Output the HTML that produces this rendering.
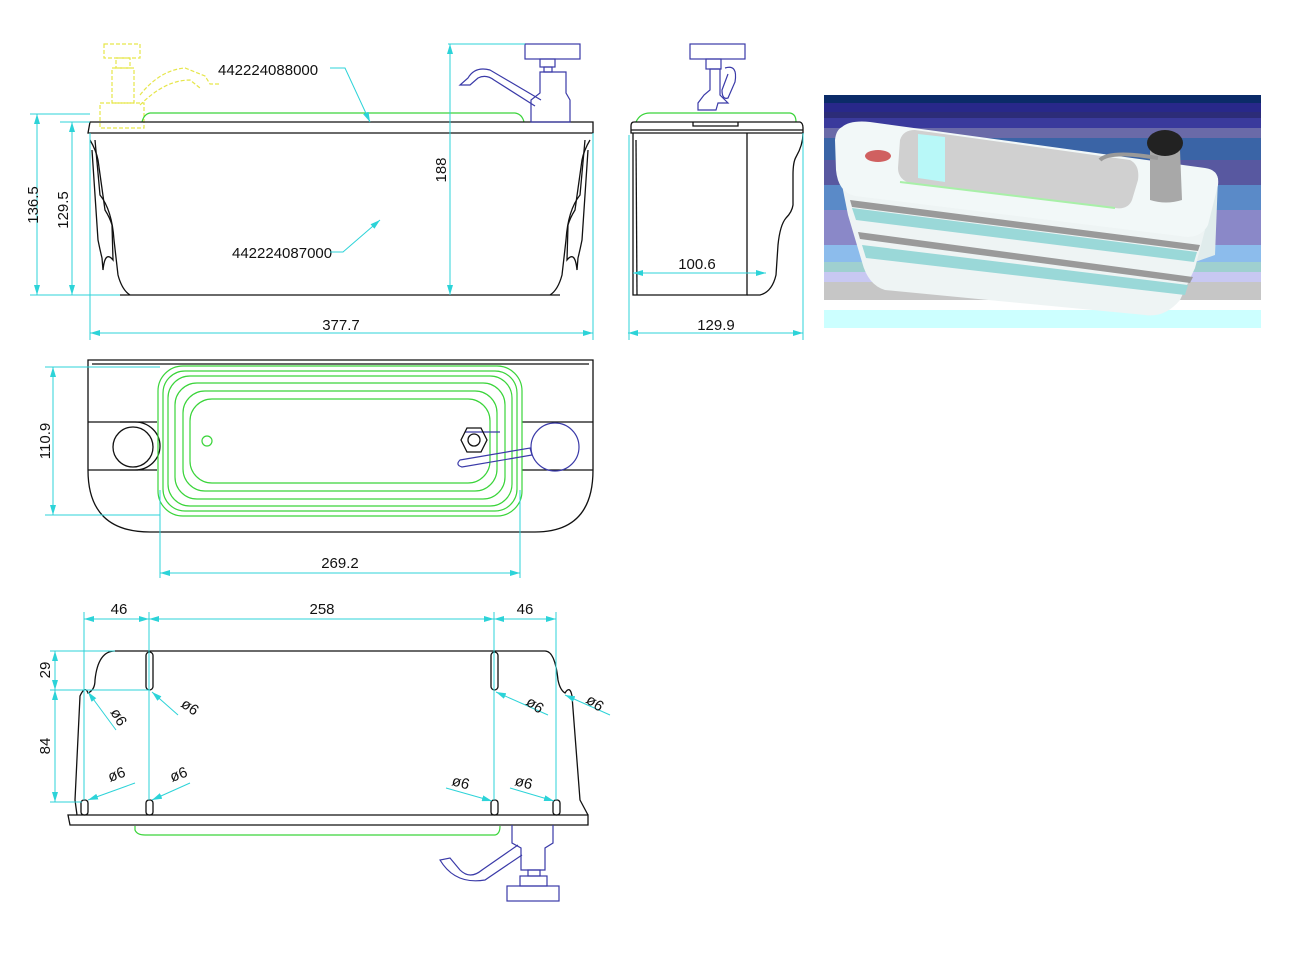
<!DOCTYPE html>
<html><head><meta charset="utf-8"><style>
html,body{margin:0;padding:0;background:#fff;width:1293px;height:968px;overflow:hidden}
svg{display:block}
text{font-family:"Liberation Sans",sans-serif;font-size:15px;fill:#111}
.k{fill:none;stroke:#111;stroke-width:1.3}
.c{fill:none;stroke:#2cd3d8;stroke-width:1}
.g{fill:none;stroke:#3ad43a;stroke-width:1.2}
.b{fill:none;stroke:#3a3aa8;stroke-width:1.2}
.y{fill:none;stroke:#e6e64a;stroke-width:1.2;stroke-dasharray:4 2}
</style></head><body>
<svg width="1293" height="968" viewBox="0 0 1293 968">
<defs>
<marker id="a" markerWidth="10" markerHeight="6" refX="10" refY="3" orient="auto-start-reverse"><path d="M0,0L10,3L0,6z" fill="#2cd3d8"/></marker>
</defs>

<!-- ========== FRONT VIEW ========== -->
<rect class="y" x="104" y="44" width="36" height="14"/>
<rect class="y" x="116" y="58" width="14" height="10"/>
<rect class="y" x="112" y="68" width="22" height="35"/>
<rect class="y" x="100" y="103" width="44" height="25"/>
<path class="y" d="M140,95 Q160,70 185,68 L205,76 L210,84 L220,84"/>
<path class="y" d="M140,105 Q165,80 190,80 L200,88"/>
<path class="g" d="M142,122 Q144,114 150,113 L515,113 Q522,114 524,122"/>
<path class="k" d="M90,122 L593,122 L593,133 L88,133 Z"/>
<path class="k" d="M90,140 Q96,150 98,160 L105,210 Q110,218 112,225 L113,260 Q105,250 103,270 L102,258 Q100,250 98,240 L92,150"/>
<path class="k" d="M95,140 L100,195 Q112,210 114,240 L118,275 Q122,290 130,295"/>
<path class="k" d="M590,140 Q584,150 582,160 L575,210 Q570,218 568,225 L567,260 Q575,250 577,270 L578,258 Q580,250 582,240 L588,150"/>
<path class="k" d="M585,140 L580,195 Q568,210 566,240 L562,275 Q558,290 550,295"/>
<line class="k" x1="120" y1="295" x2="560" y2="295"/>
<rect class="b" x="525" y="44" width="55" height="15"/>
<rect class="b" x="540" y="59" width="15" height="8"/>
<rect class="b" x="544" y="67" width="8" height="5"/>
<path class="b" d="M540,72 L566,72 L566,93 L570,100 L570,122 L531,122 L531,100 L540,93 Z"/>
<path class="b" d="M541,100 L490,70 Q475,66 468,78 L460,85 L470,85 L478,78 Q486,74 494,80 L535,106"/>
<line class="c" x1="30" y1="114" x2="90" y2="114"/>
<line class="c" x1="30" y1="295" x2="120" y2="295"/>
<line class="c" x1="37" y1="114" x2="37" y2="295" marker-start="url(#a)" marker-end="url(#a)"/>
<line class="c" x1="60" y1="122" x2="90" y2="122"/>
<line class="c" x1="72" y1="122" x2="72" y2="295" marker-start="url(#a)" marker-end="url(#a)"/>
<line class="c" x1="448" y1="44" x2="525" y2="44"/>
<line class="c" x1="450" y1="44" x2="450" y2="295" marker-start="url(#a)" marker-end="url(#a)"/>
<line class="c" x1="90" y1="133" x2="90" y2="340"/>
<line class="c" x1="593" y1="133" x2="593" y2="340"/>
<line class="c" x1="90" y1="333" x2="593" y2="333" marker-start="url(#a)" marker-end="url(#a)"/>
<text transform="translate(38,205) rotate(-90)" text-anchor="middle">136.5</text>
<text transform="translate(68,210) rotate(-90)" text-anchor="middle">129.5</text>
<text transform="translate(446,170) rotate(-90)" text-anchor="middle">188</text>
<text x="341" y="330" text-anchor="middle">377.7</text>
<text x="218" y="75" font-size="14">442224088000</text>
<path class="c" d="M330,68 L345,68 L370,122" marker-end="url(#a)"/>
<text x="232" y="258" font-size="14">442224087000</text>
<path class="c" d="M330,252 L343,252 L380,220" marker-end="url(#a)"/>

<!-- ========== SIDE VIEW ========== -->
<path class="g" d="M636,122 Q640,113 650,113 L790,113 Q796,114 796,122"/>
<rect class="b" x="690" y="44" width="55" height="15"/>
<rect class="b" x="706" y="59" width="15" height="10"/>
<path class="b" d="M710,69 L720,69 L720,95 L728,103 L718,103 L716,110 L698,110 L698,103 L704,95 L710,90 Z"/>
<path class="b" d="M725,68 Q738,64 735,82 L728,98 Q722,100 722,90 L728,74"/>
<path class="k" d="M634,122 L800,122 Q803,123 803,128 L803,133 L631,133 L631,126 Q631,122 634,122 Z"/>
<line class="k" x1="631" y1="130" x2="803" y2="130"/>
<path class="k" d="M693,122 L693,126 L738,126 L738,122"/>
<path class="k" d="M633,133 L633,295 L747,295 L747,133"/>
<line class="k" x1="636" y1="140" x2="637" y2="295"/>
<path class="k" d="M803,133 Q803,145 796,157 Q793,162 793,175 L793,205 Q792,212 786,218 Q780,225 778,245 L776,275 Q772,292 760,295 L747,295"/>
<line class="c" x1="629" y1="135" x2="629" y2="340"/>
<line class="c" x1="803" y1="133" x2="803" y2="340"/>
<line class="c" x1="628" y1="333" x2="803" y2="333" marker-start="url(#a)" marker-end="url(#a)"/>
<line class="c" x1="633" y1="273" x2="766" y2="273" marker-start="url(#a)" marker-end="url(#a)"/>
<text x="697" y="269" text-anchor="middle">100.6</text>
<text x="716" y="330" text-anchor="middle">129.9</text>

<!-- ========== PHOTO ========== -->
<rect x="824" y="95" width="437" height="8" fill="#0b2b68"/>
<rect x="824" y="103" width="437" height="9" fill="#28288a"/>
<rect x="824" y="112" width="437" height="6" fill="#2c2c78"/>
<rect x="824" y="118" width="437" height="10" fill="#3a3a9c"/>
<rect x="824" y="128" width="437" height="10" fill="#6a6aa8"/>
<rect x="824" y="138" width="437" height="22" fill="#3a64a6"/>
<rect x="824" y="160" width="437" height="25" fill="#5858a0"/>
<rect x="824" y="185" width="437" height="25" fill="#5a8ac8"/>
<rect x="824" y="210" width="437" height="35" fill="#8a88c8"/>
<rect x="824" y="245" width="437" height="17" fill="#8cbcec"/>
<rect x="824" y="262" width="437" height="10" fill="#9fd0d0"/>
<rect x="824" y="272" width="437" height="10" fill="#c8c8f2"/>
<rect x="824" y="282" width="437" height="18" fill="#c6c6c6"/>
<rect x="824" y="310" width="437" height="18" fill="#ccffff"/>
<path d="M1195,180 L1218,178 L1215,255 L1195,262 Z" fill="#e0ecec"/>
<!-- body -->
<path d="M842,185 L1205,230 L1195,268 L1180,300 Q1165,318 1145,315 L885,290 Q868,285 862,262 L848,215 Z" fill="#eef4f4"/>
<path d="M850,200 L1200,245 L1198,251 L852,207 Z" fill="#9a9a9a"/>
<path d="M852,208 L1197,252 L1194,262 L856,220 Z" fill="#9ad8d8"/>
<path d="M858,232 L1193,277 L1190,283 L860,239 Z" fill="#9a9a9a"/>
<path d="M862,245 L1188,285 L1185,295 L866,258 Z" fill="#9ad8d8"/>
<!-- top face -->
<path d="M842,127 Q850,120 870,122 L1205,168 Q1220,170 1218,185 L1208,225 Q1200,240 1180,236 L855,196 Q838,192 836,170 L835,140 Q836,130 842,127 Z" fill="#f2f8f8"/>
<path d="M900,140 Q903,130 915,130 L1130,160 Q1140,165 1138,180 L1132,200 Q1128,210 1115,208 L912,184 Q898,180 898,168 Z" fill="#d0d0d0"/>
<path d="M918,134 L945,137 L945,182 L918,178 Z" fill="#b8f8f8"/>
<path d="M900,182 L1115,208" stroke="#a8f0a8" stroke-width="2"/>
<ellipse cx="878" cy="156" rx="13" ry="6" fill="#d06060"/>
<path d="M1150,150 L1180,150 L1182,200 Q1166,205 1150,200 Z" fill="#a8a8a8"/>
<ellipse cx="1165" cy="143" rx="18" ry="13" fill="#222"/>
<path d="M1100,160 Q1110,150 1158,158" stroke="#999" stroke-width="4" fill="none"/>

<!-- ========== TOP VIEW ========== -->
<path class="k" d="M88,360 L593,360 L593,470 Q593,532 535,532 L150,532 Q88,532 88,470 Z"/>
<path class="k" d="M92,364 L589,364"/>
<line class="k" x1="88" y1="422" x2="157" y2="422"/>
<line class="k" x1="88" y1="470" x2="157" y2="470"/>
<line class="k" x1="522" y1="422" x2="593" y2="422"/>
<line class="k" x1="522" y1="470" x2="593" y2="470"/>
<path class="k" d="M120,422 L135,422 A25,24 0 0 1 135,470 L120,470"/>
<circle class="k" cx="133" cy="447" r="20"/>
<rect class="g" x="158" y="366" width="364" height="150" rx="25"/>
<rect class="g" x="163" y="371" width="354" height="140" rx="22"/>
<rect class="g" x="168" y="376" width="344" height="130" rx="22"/>
<rect class="g" x="175" y="383" width="330" height="116" rx="22"/>
<rect class="g" x="183" y="391" width="314" height="100" rx="22"/>
<rect class="g" x="190" y="399" width="300" height="84" rx="22"/>
<circle class="g" cx="207" cy="441" r="5"/>
<path class="b" d="M465,432 L500,432"/>
<polygon class="k" points="467,428 481,428 487,440 481,452 467,452 461,440"/>
<circle class="k" cx="474" cy="440" r="6"/>
<path class="b" d="M460,460 L530,448 L532,455 L462,467 Q455,465 460,460 Z"/>
<circle class="b" cx="555" cy="447" r="24"/>
<line class="c" x1="45" y1="367" x2="160" y2="367"/>
<line class="c" x1="45" y1="515" x2="160" y2="515"/>
<line class="c" x1="53" y1="367" x2="53" y2="515" marker-start="url(#a)" marker-end="url(#a)"/>
<line class="c" x1="160" y1="490" x2="160" y2="578"/>
<line class="c" x1="520" y1="490" x2="520" y2="578"/>
<line class="c" x1="160" y1="573" x2="520" y2="573" marker-start="url(#a)" marker-end="url(#a)"/>
<text transform="translate(50,441) rotate(-90)" text-anchor="middle">110.9</text>
<text x="340" y="568" text-anchor="middle">269.2</text>

<!-- ========== BOTTOM VIEW ========== -->
<path class="k" d="M77,815 L75,800 L80,696 Q85,685 88,693 Q95,690 95,680 Q98,651 115,651 L545,651 Q555,651 558,680 Q560,690 565,693 Q570,685 572,696 L580,800 L588,815"/>
<path class="k" d="M68,815 L588,815 L588,825 L70,825 Z"/>
<path class="g" d="M135,826 L135,830 Q137,835 145,835 L495,835 Q500,834 500,826"/>
<rect class="k" x="146" y="652" width="7" height="38" rx="3.5"/>
<rect class="k" x="491" y="652" width="7" height="38" rx="3.5"/>
<rect class="k" x="81" y="800" width="7" height="15" rx="3"/>
<rect class="k" x="146" y="800" width="7" height="15" rx="3"/>
<rect class="k" x="491" y="800" width="7" height="15" rx="3"/>
<rect class="k" x="553" y="800" width="7" height="15" rx="3"/>
<path class="b" d="M512,825 L512,843 L521,848 L521,870 L545,870 L545,848 L553,843 L553,825"/>
<rect class="b" x="528" y="870" width="12" height="6"/>
<rect class="b" x="520" y="876" width="27" height="10"/>
<rect class="b" x="507" y="886" width="52" height="15"/>
<path class="b" d="M518,845 L482,870 Q470,880 460,870 L450,858 L440,860 Q455,885 485,880 L522,855"/>
<line class="c" x1="84" y1="612" x2="84" y2="800"/>
<line class="c" x1="149" y1="612" x2="149" y2="800"/>
<line class="c" x1="494" y1="612" x2="494" y2="800"/>
<line class="c" x1="556" y1="612" x2="556" y2="800"/>
<line class="c" x1="84" y1="619" x2="149" y2="619" marker-start="url(#a)" marker-end="url(#a)"/>
<line class="c" x1="149" y1="619" x2="494" y2="619" marker-start="url(#a)" marker-end="url(#a)"/>
<line class="c" x1="494" y1="619" x2="556" y2="619" marker-start="url(#a)" marker-end="url(#a)"/>
<text x="119" y="614" text-anchor="middle">46</text>
<text x="322" y="614" text-anchor="middle">258</text>
<text x="525" y="614" text-anchor="middle">46</text>
<line class="c" x1="50" y1="651" x2="115" y2="651"/>
<line class="c" x1="50" y1="690" x2="150" y2="690"/>
<line class="c" x1="50" y1="802" x2="82" y2="802"/>
<line class="c" x1="55" y1="651" x2="55" y2="690" marker-start="url(#a)" marker-end="url(#a)"/>
<line class="c" x1="55" y1="690" x2="55" y2="802" marker-start="url(#a)" marker-end="url(#a)"/>
<text transform="translate(50,670) rotate(-90)" text-anchor="middle">29</text>
<text transform="translate(50,746) rotate(-90)" text-anchor="middle">84</text>
<line class="c" x1="116" y1="730" x2="88" y2="692" marker-end="url(#a)"/>
<text transform="translate(110,712) rotate(60)" font-size="13">ø6</text>
<line class="c" x1="178" y1="715" x2="152" y2="692" marker-end="url(#a)"/>
<text transform="translate(180,706) rotate(35)" font-size="13">ø6</text>
<line class="c" x1="548" y1="715" x2="496" y2="692" marker-end="url(#a)"/>
<text transform="translate(525,704) rotate(35)" font-size="13">ø6</text>
<line class="c" x1="610" y1="715" x2="565" y2="695" marker-end="url(#a)"/>
<text transform="translate(585,702) rotate(35)" font-size="13">ø6</text>
<line class="c" x1="135" y1="783" x2="88" y2="800" marker-end="url(#a)"/>
<text transform="translate(110,782) rotate(-20)" font-size="13">ø6</text>
<line class="c" x1="190" y1="783" x2="152" y2="800" marker-end="url(#a)"/>
<text transform="translate(172,782) rotate(-20)" font-size="13">ø6</text>
<line class="c" x1="446" y1="788" x2="492" y2="801" marker-end="url(#a)"/>
<text transform="translate(451,785) rotate(15)" font-size="13">ø6</text>
<line class="c" x1="510" y1="788" x2="554" y2="801" marker-end="url(#a)"/>
<text transform="translate(514,785) rotate(15)" font-size="13">ø6</text>
</svg>
</body></html>
